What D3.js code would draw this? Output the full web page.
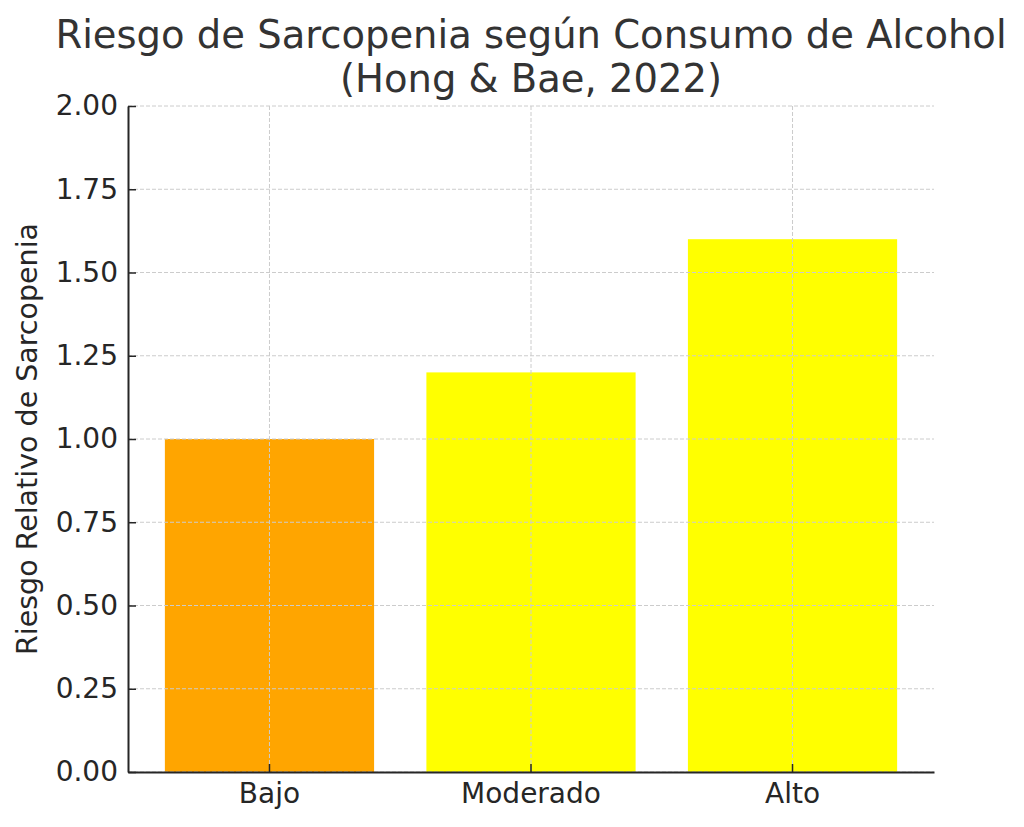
<!DOCTYPE html>
<html>
<head>
<meta charset="utf-8">
<script src="https://cdn.jsdelivr.net/npm/d3@7"></script>
<style>
  body { margin: 0; background: #fff; }
  svg { display: block; font-family: "DejaVu Sans", sans-serif; }
</style>
</head>
<body>
<svg id="chartSvg" width="1024" height="827"></svg>
<script>
// data
const categories = ["Bajo", "Moderado", "Alto"];
const riskValues = [1.0, 1.2, 1.6];
const barColors = ["#FFA500", "#FFFF00", "#FFFF00"];
const yTicks = [0, 0.25, 0.5, 0.75, 1.0, 1.25, 1.5, 1.75, 2.0];
const titleLines = ["Riesgo de Sarcopenia según Consumo de Alcohol", "(Hong & Bae, 2022)"];
const yAxisTitle = "Riesgo Relativo de Sarcopenia";

const margin = { top: 106, right: 90, bottom: 55, left: 128 },
      width = 1024 - margin.left - margin.right,
      height = 827 - margin.top - margin.bottom;

const svg = d3.select("#chartSvg")
    .append("g")
    .attr("transform", `translate(${margin.left},${margin.top})`);

const x = d3.scaleBand()
    .domain(categories)
    .range([0, width])
    .paddingInner(0.2)
    .paddingOuter(0.141);

const y = d3.scaleLinear()
    .domain([0, 2])
    .range([height, 0]);

const data = categories.map((c, i) => ({ cat: c, value: riskValues[i], color: barColors[i] }));

// bars
svg.selectAll(".bar")
    .data(data)
    .enter().append("rect")
    .attr("class", "bar")
    .attr("x", d => x(d.cat))
    .attr("y", d => y(d.value))
    .attr("width", x.bandwidth())
    .attr("height", d => height - y(d.value))
    .attr("fill", d => d.color);

// grid (drawn over the bars, like the original)
const grid = svg.append("g").attr("class", "grid");
grid.selectAll(".hgrid")
    .data(yTicks)
    .enter().append("line")
    .attr("x1", 0).attr("x2", width)
    .attr("y1", d => y(d)).attr("y2", d => y(d))
    .attr("stroke", "#cccccc")
    .attr("stroke-width", 1)
    .attr("stroke-dasharray", "4,2");
grid.selectAll(".vgrid")
    .data(categories)
    .enter().append("line")
    .attr("x1", d => x(d) + x.bandwidth() / 2).attr("x2", d => x(d) + x.bandwidth() / 2)
    .attr("y1", 0).attr("y2", height)
    .attr("stroke", "#cccccc")
    .attr("stroke-width", 1)
    .attr("stroke-dasharray", "4,2");

// X axis (ticks point inward, no end caps)
const xAxis = svg.append("g")
    .attr("transform", `translate(0,${height})`)
    .call(d3.axisBottom(x).tickSize(-8).tickSizeOuter(0).tickPadding(11));

// Y axis
const yAxis = svg.append("g")
    .call(d3.axisLeft(y).tickValues(yTicks).tickFormat(d3.format(".2f")).tickSize(-8).tickSizeOuter(0).tickPadding(10));

[xAxis, yAxis].forEach(ax => {
    ax.select(".domain").attr("stroke", "#262626").attr("stroke-width", 2);
    ax.selectAll(".tick line").attr("stroke", "#262626").attr("stroke-width", 1.5);
    ax.selectAll(".tick text")
        .attr("fill", "#262626")
        .style("font-size", "28px")
        .style("font-family", "DejaVu Sans, sans-serif");
});

// Y axis title
svg.append("text")
    .attr("transform", "rotate(-90)")
    .attr("x", -height / 2)
    .attr("y", -91)
    .attr("text-anchor", "middle")
    .attr("fill", "#262626")
    .style("font-size", "28.5px")
    .text(yAxisTitle);

// Title
svg.selectAll(".title")
    .data(titleLines)
    .enter().append("text")
    .attr("class", "title")
    .attr("x", width / 2)
    .attr("y", (d, i) => -margin.top + 48 + i * 44)
    .attr("text-anchor", "middle")
    .attr("fill", "#333333")
    .style("font-size", "38.5px")
    .text(d => d);
</script>
</body>
</html>
